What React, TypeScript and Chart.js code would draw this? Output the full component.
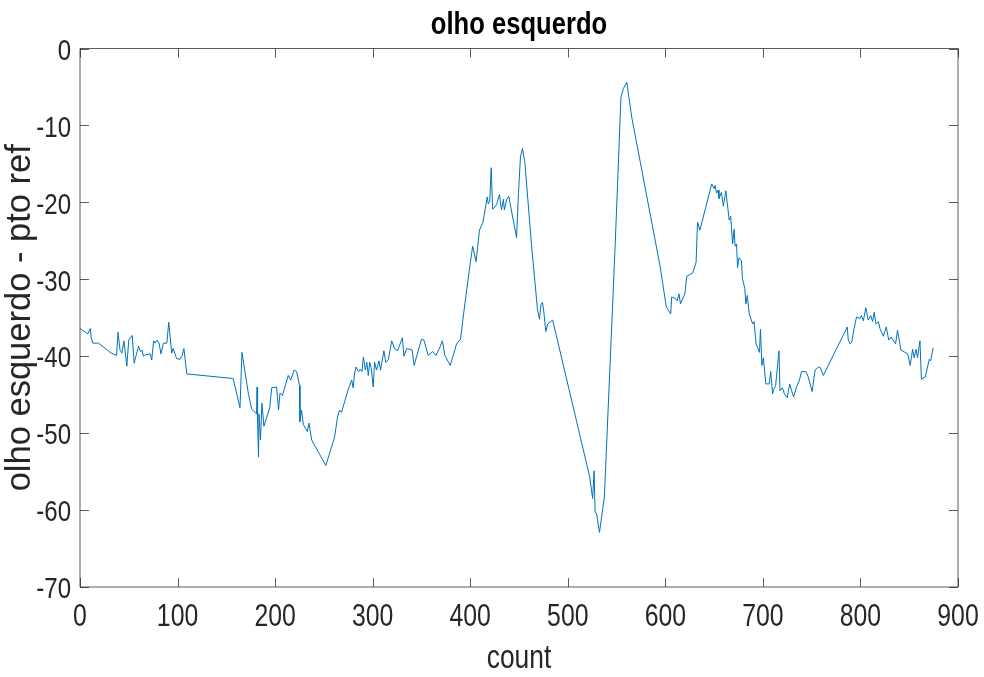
import React, { useEffect, useRef } from "react";
import { Chart, registerables } from "chart.js";

Chart.register(...registerables);

const counts: number[] = [
  0, 8, 10.5, 11.5, 13, 19, 32, 37.5, 39, 41, 43, 45, 48, 50, 53.5, 55.5, 57.5, 60, 62, 63.5,
  65, 67, 72, 73.5, 75.5, 77, 79, 81, 83, 85.5, 89, 91, 94, 95.5, 99, 102.5, 104.5, 106.5, 109.5, 157,
  164, 166, 172.5, 176, 181, 181.5, 182, 183, 183.5, 185, 186.5, 188.5, 194.5, 196.5, 201.5, 203.5, 205, 207.5, 213.5, 216,
  219.5, 222, 225, 225.5, 227, 229, 233, 234.7, 237.5, 252, 261, 264, 266, 268, 275, 278.5, 280, 281.5, 283, 285.5,
  287.5, 289, 290.5, 292.5, 294, 295.5, 297, 298.5, 300.5, 302, 304, 306.5, 308, 311.5, 313.5, 316, 319.5, 322.5, 325.5, 330.5,
  332, 335, 340.5, 342.5, 350, 352.5, 357, 361.5, 365, 369, 371.5, 374, 379.5, 386, 390, 394.5, 399.5, 402.5, 406, 409.5,
  413, 416, 417.5, 418.5, 420, 421.5, 423, 427, 430, 432, 434, 435, 437.5, 439.5, 447.5, 449.5, 451.5, 453.5, 456, 463,
  469, 471, 472.5, 474, 475.5, 477.5, 479.5, 484.5, 522.5, 525.5, 527, 528, 529.5, 532.5, 537.5, 540, 545, 548.5, 552, 554.5,
  557, 560.5, 565.5, 594.5, 601, 605.5, 606.5, 610.5, 612, 614, 615.5, 620, 622, 628, 631.5, 633, 635.5, 647.5, 650, 651,
  652.5, 654, 655, 657.5, 659.5, 662, 665.5, 667, 669, 670.5, 671.5, 673, 674, 675.5, 678, 679, 681.5, 682.5, 684, 686,
  689.5, 691, 693, 696.5, 697.5, 699, 700.5, 703, 706.5, 708, 710, 711, 713, 716.5, 717.5, 720, 722, 725, 727.5, 729.5,
  731.5, 734.5, 737.5, 739.5, 744, 746.5, 750.5, 753.5, 757, 759, 762, 786.5, 787.5, 789.5, 791, 793.5, 796, 799.5, 801, 803,
  805.5, 808, 810.5, 812.5, 814, 816, 818.5, 820, 823.5, 826.5, 829, 831.5, 836, 838, 841.5, 848.5, 851, 853.5, 855, 857,
  858.5, 861, 862.5, 866.5, 870.5, 872, 874.5,
];

const values: number[] = [
  -36.4, -37.1, -36.4, -37.6, -38.3, -38.3, -39.6, -39.9, -36.9, -39.2, -39.6, -38.0, -41.3, -37.9, -37.3, -40.9, -39.9, -38.7, -39.4, -39.2,
  -40.0, -39.8, -39.7, -40.5, -38.0, -38.3, -37.9, -38.3, -39.7, -38.3, -38.3, -35.6, -39.6, -39.0, -40.3, -40.4, -40.0, -39.0, -42.3, -42.9,
  -46.7, -39.5, -44.8, -46.9, -47.5, -44.0, -48.5, -53.1, -47.5, -50.9, -46.1, -49.1, -46.7, -44.1, -44.0, -47.0, -44.8, -45.1, -42.5, -43.1,
  -41.8, -42.0, -43.8, -48.5, -47.0, -48.9, -49.8, -48.7, -50.9, -54.2, -50.5, -47.9, -47.0, -47.3, -44.3, -43.1, -44.1, -42.2, -41.4, -42.0,
  -41.7, -42.0, -40.1, -41.8, -40.8, -42.5, -40.8, -41.5, -44.0, -40.8, -41.8, -40.6, -41.8, -39.3, -40.8, -40.5, -38.0, -39.0, -39.3, -37.6,
  -40.0, -39.0, -39.2, -41.2, -37.8, -37.9, -39.9, -39.4, -39.9, -38.8, -38.0, -39.9, -41.2, -38.4, -37.8, -33.2, -28.4, -25.7, -27.7, -23.6,
  -22.6, -20.4, -19.3, -20.2, -19.9, -15.5, -20.9, -20.3, -19.0, -21.0, -19.6, -21.0, -19.6, -19.2, -24.6, -18.7, -14.1, -13.0, -14.8, -25.8,
  -34.0, -35.2, -33.3, -33.0, -34.3, -36.8, -35.8, -35.3, -55.7, -58.5, -54.9, -60.2, -60.5, -62.9, -58.3, -50.9, -36.2, -25.8, -14.5, -6.3,
  -5.2, -4.4, -8.9, -28.2, -33.6, -34.5, -32.3, -32.5, -32.8, -31.9, -33.2, -31.9, -29.6, -29.2, -27.8, -22.6, -23.6, -17.6, -18.2, -17.8,
  -18.8, -18.4, -19.5, -18.7, -20.5, -18.5, -22.3, -21.8, -25.4, -23.5, -25.7, -25.4, -28.5, -27.2, -27.6, -29.9, -31.2, -33.2, -32.1, -34.5,
  -35.8, -35.5, -38.4, -39.5, -36.5, -41.2, -40.2, -43.6, -43.6, -42.0, -44.9, -44.3, -43.9, -39.3, -44.5, -44.1, -44.9, -45.4, -43.6, -44.5,
  -45.3, -44.0, -43.1, -42.0, -42.0, -42.7, -44.6, -41.8, -41.4, -41.5, -42.5, -36.2, -37.9, -38.4, -38.2, -36.4, -34.9, -35.1, -34.7, -35.4,
  -33.7, -35.3, -34.7, -35.5, -34.3, -35.8, -35.5, -36.4, -37.4, -36.2, -37.9, -37.5, -38.4, -36.6, -39.2, -39.7, -41.2, -39.1, -40.2, -39.1,
  -40.2, -38.0, -43.0, -42.7, -40.4, -40.6, -38.9,
];

const xTicks: number[] = [0, 100, 200, 300, 400, 500, 600, 700, 800, 900];
const yTicks: number[] = [-70, -60, -50, -40, -30, -20, -10, 0];

const titleText = "olho esquerdo";
const xTitle = "count";
const yTitle = "olho esquerdo - pto ref";

// texts whose font list ends with sans-serif are drawn horizontally condensed
const NARROW = "'Liberation Sans', sans-serif";
const REGULAR = "'Liberation Sans', Arial";
const NARROW_F = 0.8;
const TEXT = "#262626";
const AXIS = "rgba(38,38,38,0.75)";

const narrowText = {
  id: "narrowText",
  beforeDraw(chart: any) {
    const ctx: any = chart.ctx;
    if (ctx.__narrowed) return;
    const orig = ctx.fillText.bind(ctx);
    ctx.fillText = function (text: string, x: number, y: number, maxWidth?: number) {
      if (String(ctx.font).indexOf("sans-serif") >= 0) {
        ctx.save();
        ctx.translate(x, y);
        ctx.scale(NARROW_F, 1);
        if (maxWidth !== undefined && maxWidth !== null) orig(text, 0, 0, maxWidth / NARROW_F);
        else orig(text, 0, 0);
        ctx.restore();
      } else if (maxWidth !== undefined && maxWidth !== null) {
        orig(text, x, y, maxWidth);
      } else {
        orig(text, x, y);
      }
    };
    ctx.__narrowed = true;
  },
};

const boxTicks = {
  id: "boxTicks",
  afterDatasetsDraw(chart: any) {
    const { ctx, chartArea: a, scales } = chart;
    const len = 9;
    ctx.save();
    ctx.strokeStyle = AXIS;
    ctx.lineWidth = 1;
    ctx.beginPath();
    ctx.rect(a.left, a.top, a.right - a.left, a.bottom - a.top);
    for (const v of xTicks) {
      const px = Math.round(scales.x.getPixelForValue(v)) + 0.5;
      ctx.moveTo(px, a.bottom);
      ctx.lineTo(px, a.bottom - len);
      ctx.moveTo(px, a.top);
      ctx.lineTo(px, a.top + len);
    }
    for (const v of yTicks) {
      const py = Math.round(scales.y.getPixelForValue(v)) + 0.5;
      ctx.moveTo(a.left, py);
      ctx.lineTo(a.left + len, py);
      ctx.moveTo(a.right, py);
      ctx.lineTo(a.right - len, py);
    }
    ctx.stroke();
    ctx.restore();
  },
};

export default function App() {
  const ref = useRef<HTMLCanvasElement | null>(null);
  useEffect(() => {
    if (!ref.current) return;
    const points = counts.map((c, i) => ({ x: c, y: values[i] }));
    const chart = new Chart(ref.current, {
      type: "line",
      data: {
        datasets: [
          {
            data: points,
            borderColor: "#0072BD",
            borderWidth: 1,
            pointRadius: 0,
            tension: 0,
            fill: false,
          },
        ],
      },
      options: {
        animation: false,
        responsive: false,
        maintainAspectRatio: false,
        layout: { padding: { left: 0, right: 26, top: 0, bottom: 0 } },
        plugins: {
          legend: { display: false },
          tooltip: { enabled: false },
          title: {
            display: true,
            fullSize: false,
            text: titleText,
            color: "#000",
            font: { family: NARROW, size: 32, weight: "bold", lineHeight: 1 },
            padding: { top: 9, bottom: 7.5 },
          },
        },
        scales: {
          x: {
            type: "linear",
            min: 0,
            max: 900,
            afterBuildTicks: (s: any) => {
              s.ticks = xTicks.map((v) => ({ value: v }));
            },
            afterFit: (s: any) => {
              s.height = 90;
              s.paddingLeft = 0;
              s.paddingRight = 0;
            },
            ticks: {
              color: TEXT,
              font: { family: NARROW, size: 31 },
              padding: 12,
              maxRotation: 0,
              autoSkip: false,
            },
            grid: { display: false, drawTicks: false },
            border: { display: false },
            title: {
              display: true,
              text: xTitle,
              color: TEXT,
              font: { family: NARROW, size: 33, lineHeight: 1 },
              padding: { top: 0, bottom: 2 },
            },
          },
          y: {
            type: "linear",
            min: -70,
            max: 0,
            afterBuildTicks: (s: any) => {
              s.ticks = yTicks.map((v) => ({ value: v }));
            },
            afterFit: (s: any) => {
              s.width = 80;
            },
            ticks: {
              color: TEXT,
              font: { family: NARROW, size: 30 },
              padding: 9,
              labelOffset: 3,
              autoSkip: false,
            },
            grid: { display: false, drawTicks: false },
            border: { display: false },
            title: {
              display: true,
              text: yTitle,
              color: TEXT,
              font: { family: REGULAR, size: 34.5, lineHeight: 1 },
              padding: { top: 3, bottom: 0 },
            },
          },
        },
      },
      plugins: [narrowText, boxTicks],
    });
    return () => chart.destroy();
  }, []);
  return (
    <div style={{ position: "fixed", left: 0, top: 0, width: 984, height: 677, background: "#fff" }}>
      <canvas ref={ref} width={984} height={677} style={{ display: "block", width: 984, height: 677 }} />
    </div>
  );
}
